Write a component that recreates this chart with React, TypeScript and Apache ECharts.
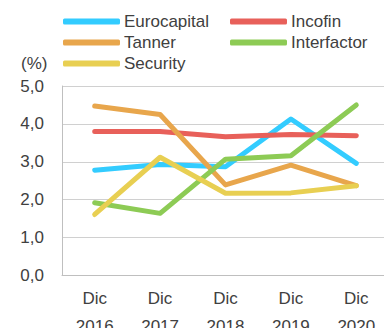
import React, { useEffect, useRef } from "react";
import * as echarts from "echarts";

const categories = ["Dic\n2016", "Dic\n2017", "Dic\n2018", "Dic\n2019", "Dic\n2020"];
const eurocapital = [2.78, 2.93, 2.87, 4.13, 2.96];
const incofin = [3.8, 3.8, 3.66, 3.72, 3.69];
const tanner = [4.47, 4.25, 2.39, 2.91, 2.37];
const interfactor = [1.92, 1.64, 3.07, 3.16, 4.5];
const security = [1.61, 3.12, 2.17, 2.18, 2.37];
const yTicks = [0, 1, 2, 3, 4, 5];

const seriesDefs = [
  { name: "Eurocapital", data: eurocapital, color: "#33ccff", left: 63, top: 13 },
  { name: "Incofin", data: incofin, color: "#e8605a", left: 230, top: 13 },
  { name: "Tanner", data: tanner, color: "#e8a64c", left: 63, top: 34 },
  { name: "Interfactor", data: interfactor, color: "#8dcb55", left: 230, top: 34 },
  { name: "Security", data: security, color: "#e8cf52", left: 63, top: 55 },
];

const FONT = "'Liberation Sans', Arial, sans-serif";

export default function App() {
  const ref = useRef<HTMLDivElement>(null);
  useEffect(() => {
    if (!ref.current) return;
    const chart = echarts.init(ref.current, null, { renderer: "svg" });
    const textStyle = { fontFamily: FONT, fontSize: 17, color: "#404040" };
    chart.setOption({
      animation: false,
      legend: seriesDefs.map((s) => ({
        data: [s.name],
        left: s.left,
        top: s.top,
        icon: "roundRect",
        itemWidth: 57,
        itemHeight: 6,
        itemGap: 0,
        padding: 0,
        textStyle: { ...textStyle, padding: [0, 0, 0, -1] },
      })),
      graphic: [
        {
          type: "text",
          left: 21,
          top: 55,
          style: { text: "(%)", fill: "#404040", font: "17px " + FONT },
        },
      ],
      grid: {
        left: 62,
        top: 86,
        width: 327,
        height: 189.5,
        containLabel: false,
        outerBoundsMode: "none",
      },
      xAxis: {
        type: "category",
        data: categories,
        boundaryGap: true,
        axisLine: { lineStyle: { color: "#bfbfbf", width: 1 } },
        axisTick: { show: false },
        axisLabel: { ...textStyle, margin: 9, lineHeight: 28 },
      },
      yAxis: {
        type: "value",
        min: yTicks[0],
        max: yTicks[yTicks.length - 1],
        interval: 1,
        axisLine: { show: true, lineStyle: { color: "#bfbfbf", width: 1 } },
        axisTick: { show: false },
        splitLine: { lineStyle: { color: "#d0d0d0", width: 1 } },
        axisLabel: { ...textStyle, margin: 18, formatter: (v: number) => v.toFixed(1).replace(".", ",") },
      },
      series: seriesDefs.map((s) => ({
        name: s.name,
        type: "line",
        data: s.data,
        color: s.color,
        symbol: "none",
        lineStyle: { width: 5, color: s.color, cap: "round", join: "round" },
      })),
    });
    return () => chart.dispose();
  }, []);
  return <div ref={ref} style={{ width: 384, height: 328, position: "absolute", left: 0, top: 0 }} />;
}
